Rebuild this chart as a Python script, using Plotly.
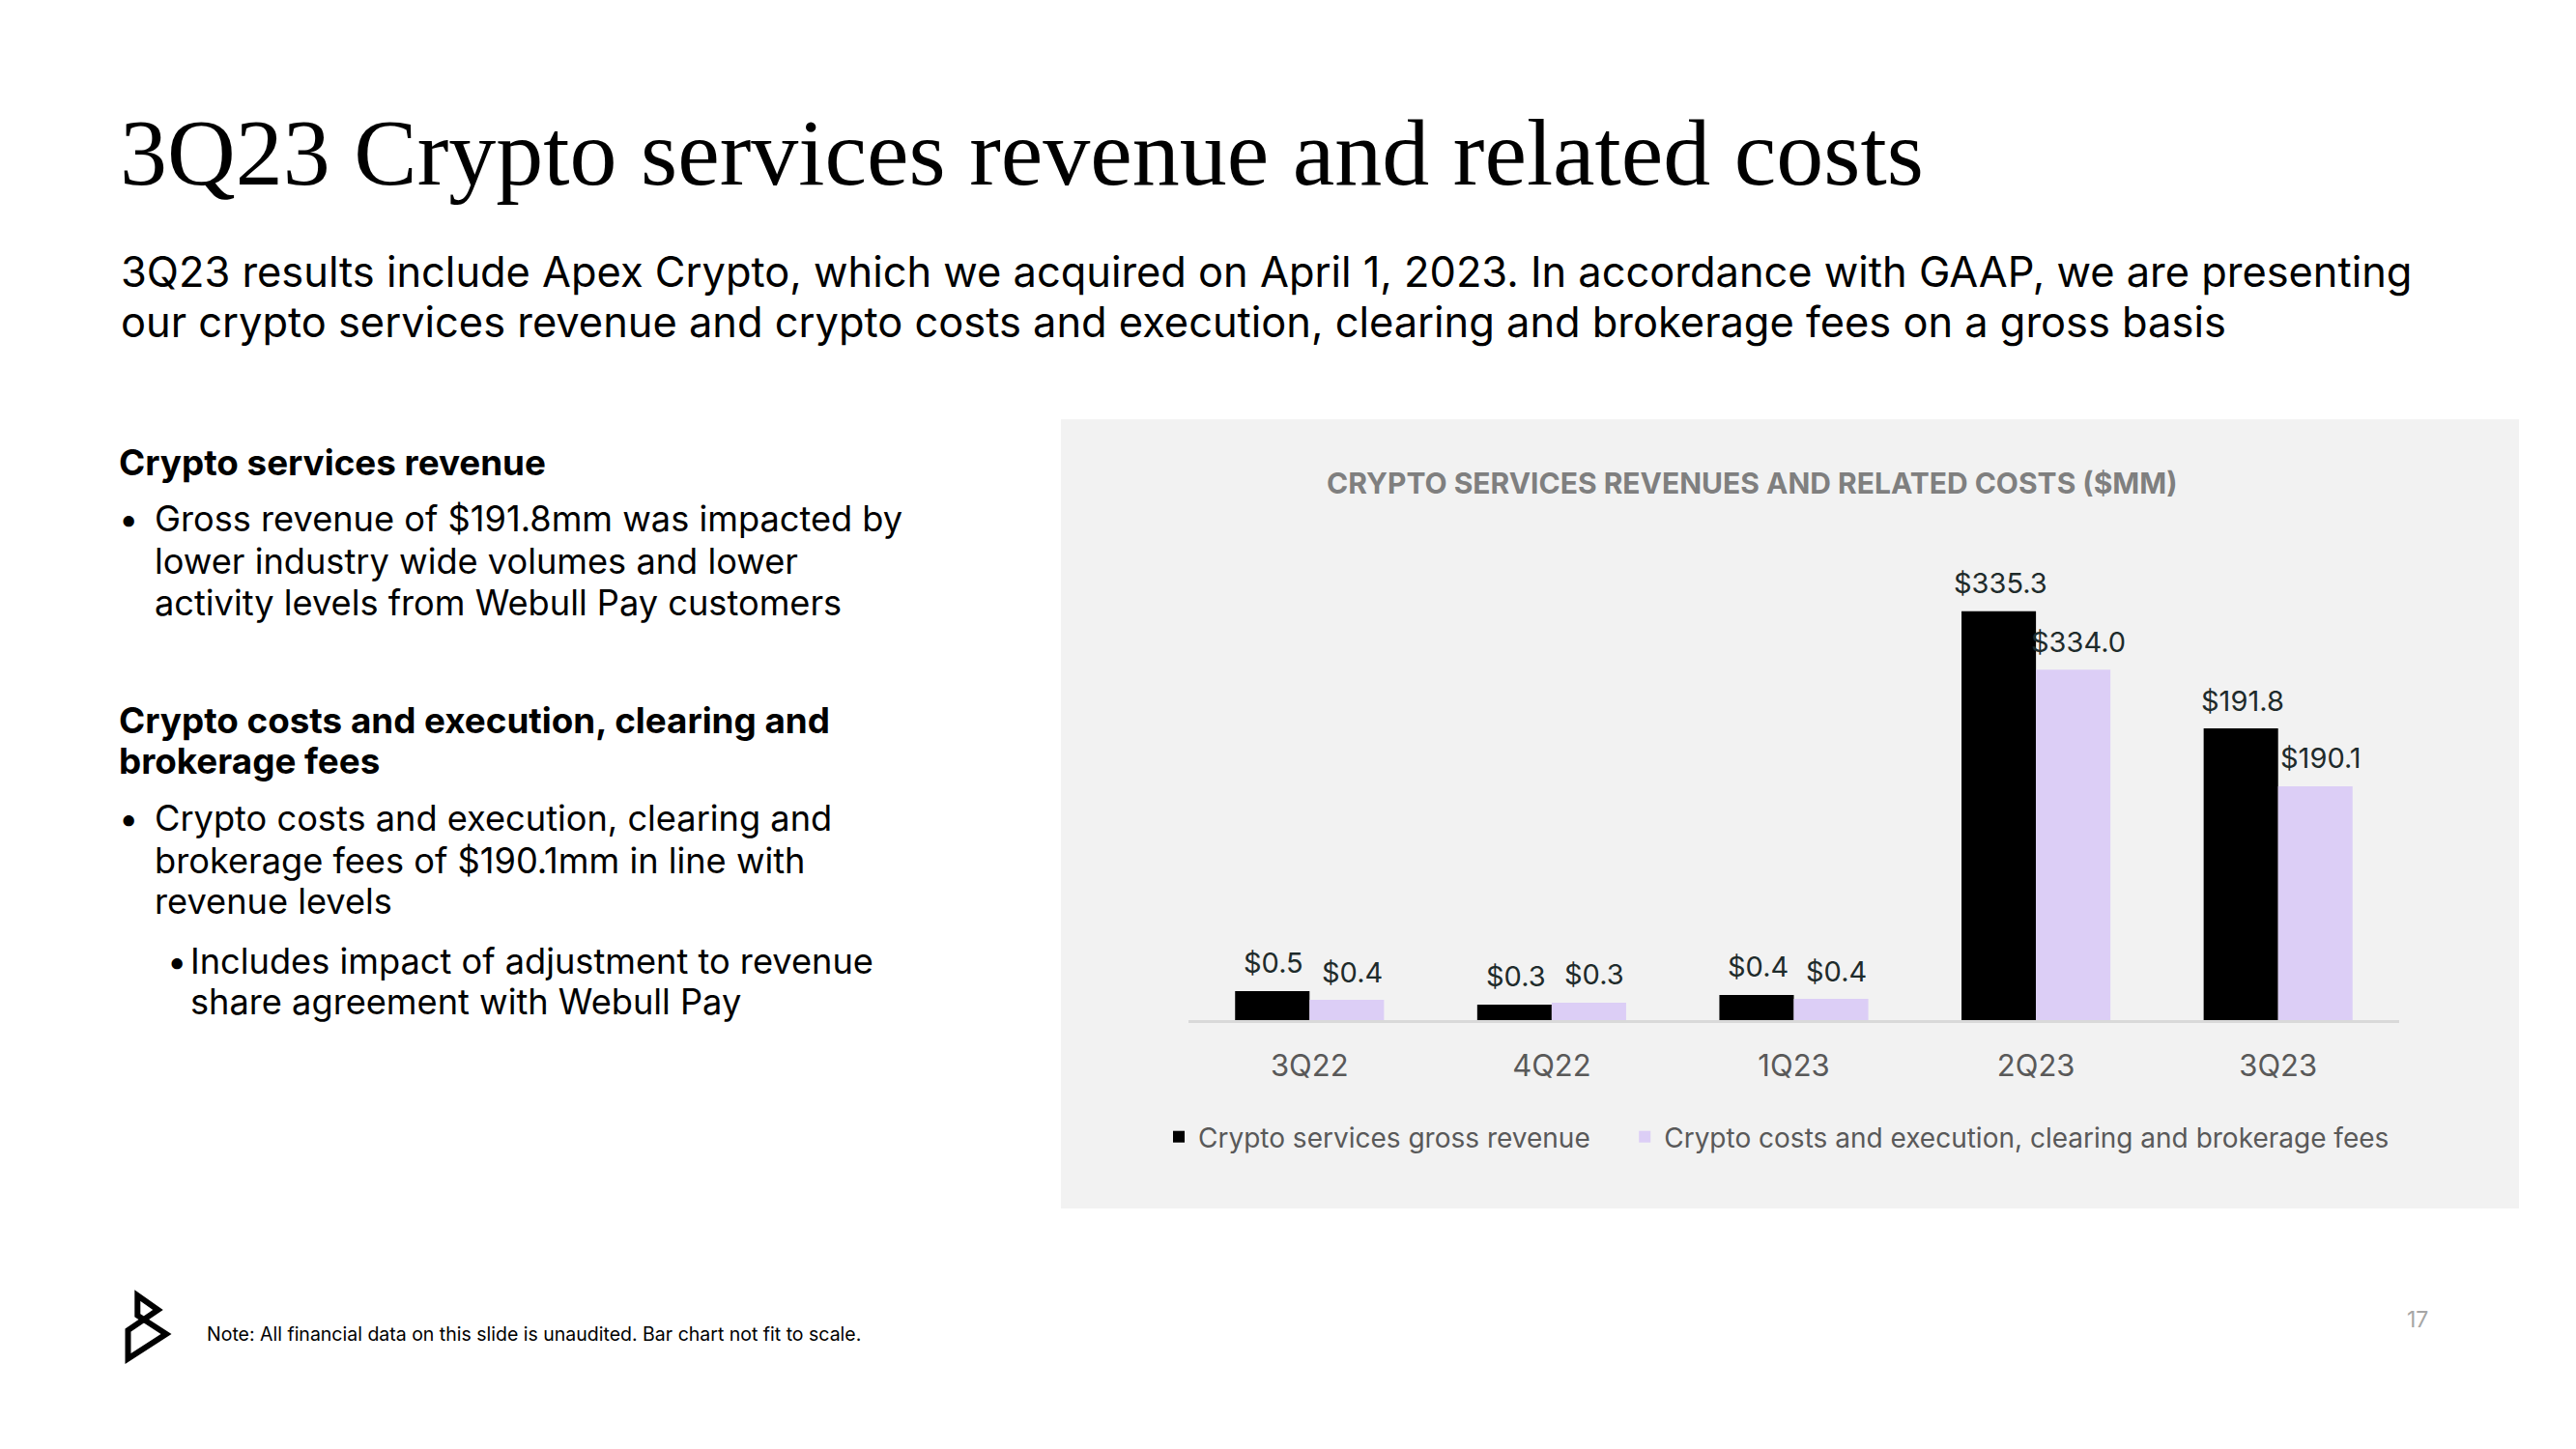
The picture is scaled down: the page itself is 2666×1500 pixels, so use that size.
import plotly.graph_objects as go

# ---------------- data ----------------
quarters = ["3Q22", "4Q22", "1Q23", "2Q23", "3Q23"]
revenue_values = [0.5, 0.3, 0.4, 335.3, 191.8]          # Crypto services gross revenue ($MM)
cost_values = [0.4, 0.3, 0.4, 334.0, 190.1]             # Crypto costs and execution, clearing and brokerage fees ($MM)
# bar lengths as drawn in the slide (chart explicitly "not fit to scale")
revenue_drawn = [23.8, 12.7, 20.6, 335.3, 239.2]
cost_drawn = [16.6, 14.3, 17.4, 287.3, 191.7]
series_names = ["Crypto services gross revenue",
                "Crypto costs and execution, clearing and brokerage fees"]

title_text = "3Q23 Crypto services revenue and related costs"
subtitle_lines = [
    "3Q23 results include Apex Crypto, which we acquired on April 1, 2023. In accordance with GAAP, we are presenting",
    "our crypto services revenue and crypto costs and execution, clearing and brokerage fees on a gross basis",
]
chart_title = "CRYPTO SERVICES REVENUES AND RELATED COSTS ($MM)"
note_text = "Note: All financial data on this slide is unaudited. Bar chart not fit to scale."
page_no = "17"

# ---------------- layout helpers ----------------
OFF = 8
W, H = 2650, 1484


def fx(X):
    return (X - OFF) / W


def fy(Y):
    return 1 - (Y - OFF) / H


BODY = "Inter, Roboto, Arial, sans-serif"
SERIF = "Liberation Serif, Times New Roman, serif"
BLACK = "#000000"
LAV = "#DCCEF6"
PANEL = "#F2F2F2"
NBSP = "\u00a0"

fig = go.Figure()
fig.add_trace(go.Bar(x=quarters, y=revenue_drawn, name=series_names[0] + NBSP * 4,
                     marker=dict(color=BLACK, line=dict(width=0)), hoverinfo="skip"))
fig.add_trace(go.Bar(x=quarters, y=cost_drawn, name=series_names[1],
                     marker=dict(color=LAV, line=dict(width=0)), hoverinfo="skip"))

ann = []
# data labels
for vals, drawn, sh in ((revenue_values, revenue_drawn, -37), (cost_values, cost_drawn, 44)):
    for q, v, d in zip(quarters, vals, drawn):
        ann.append(dict(x=q, y=d, xref="x", yref="y", text=f"${v:.1f}", showarrow=False,
                        xshift=sh, yshift=29, xanchor="center", yanchor="middle",
                        font=dict(family=BODY, size=29, color="#1E2B2B")))


def text(X, Y, s, size, color="#000000", family=BODY, bold=False, anchor="left"):
    ann.append(dict(x=fx(X), y=fy(Y), xref="paper", yref="paper", text=(f"<b>{s}</b>" if bold else s),
                    showarrow=False, xanchor=anchor, yanchor="middle",
                    font=dict(family=family, size=size, color=color)))


text(122, 158, title_text, 98, family=SERIF)
text(123, 281, subtitle_lines[0], 43.4)
text(123, 333, subtitle_lines[1], 43.4)

LS = 36.2
LB = 36.8
text(121, 478, "Crypto services revenue", LB, bold=True)
text(133, 537, "•", LS, anchor="center")
text(158, 537, "Gross revenue of $191.8mm was impacted by", LS)
text(158, 581, "lower industry wide volumes and lower", LS)
text(158, 624, "activity levels from Webull Pay customers", LS)
text(121, 745, "Crypto costs and execution, clearing and", LB, bold=True)
text(121, 787, "brokerage fees", LB, bold=True)
text(133, 847, "•", LS, anchor="center")
text(158, 847, "Crypto costs and execution, clearing and", LS)
text(158, 891, "brokerage fees of $190.1mm in line with", LS)
text(158, 933, "revenue levels", LS)
text(183, 995, "•", LS, anchor="center")
text(195, 995, "Includes impact of adjustment to revenue", LS)
text(195, 1037, "share agreement with Webull Pay", LS)

text(1813, 500, chart_title, 30, color="#7F7F7F", bold=True, anchor="center")
text(212, 1381, note_text, 19.5)
text(2502, 1366, page_no, 23, color="#A6A6A6", anchor="center")

shapes = [
    dict(type="rect", xref="paper", yref="paper", x0=fx(1098), x1=fx(2607), y0=fy(1251), y1=fy(434),
         fillcolor=PANEL, line=dict(width=0), layer="below"),
]
# logo
pts = [(142.3, 1341.0), (142.3, 1361.7), (172.0, 1381.0), (132.5, 1406.5), (132.5, 1377.0), (163.5, 1356.0)]
path = "M " + " L ".join(f"{fx(a):.5f},{fy(b):.5f}" for a, b in pts) + " Z"
shapes.append(dict(type="path", xref="paper", yref="paper", path=path,
                   line=dict(color="#000000", width=6), fillcolor="rgba(0,0,0,0)"))

Y_TOP = 560
K = 423.3 / 335.3
fig.update_layout(
    width=W, height=H, margin=dict(l=0, r=0, t=0, b=0),
    paper_bgcolor="#FFFFFF", plot_bgcolor="rgba(0,0,0,0)",
    barmode="group", bargap=0.385, bargroupgap=0,
    xaxis=dict(domain=[fx(1230), fx(2483)], showgrid=False, zeroline=False,
               showline=True, linecolor="#D9D9D9", linewidth=3, ticks="",
               tickfont=dict(family=BODY, size=31, color="#595959"), ticklabelstandoff=18,
               fixedrange=True),
    yaxis=dict(domain=[fy(1056), fy(Y_TOP)], range=[0, (1056 - Y_TOP) / K], visible=False,
               showgrid=False, zeroline=False, fixedrange=True),
    legend=dict(orientation="h", x=fx(1200), y=fy(1177), xanchor="left", yanchor="middle",
                font=dict(family=BODY, size=28, color="#595959"), bgcolor="rgba(0,0,0,0)",
                traceorder="normal"),
    annotations=ann, shapes=shapes, showlegend=True,
)
fig.write_html("out.html")
